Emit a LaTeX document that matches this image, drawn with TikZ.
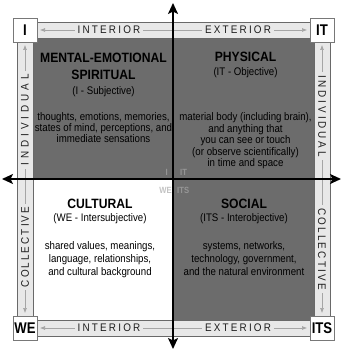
\documentclass[tikz,border=0pt]{standalone}
\usepackage{fontspec}
\setmainfont{Liberation Sans}
\newfontfamily\nf{Liberation Sans}[FakeStretch=0.88]
\newfontfamily\tnf{Liberation Sans}[FakeStretch=0.9]
\newfontfamily\cnf{Liberation Sans}[FakeStretch=0.85]
\newfontfamily\snf{Liberation Sans}[FakeStretch=0.9]
\usetikzlibrary{arrows.meta}
\definecolor{quad}{RGB}{108,108,108}
\definecolor{stripfill}{RGB}{232,232,232}
\definecolor{stripline}{RGB}{105,105,105}
\definecolor{arrowgray}{RGB}{165,165,165}
\definecolor{striptext}{RGB}{30,30,30}
\definecolor{boxline}{RGB}{120,120,120}
\definecolor{fainta}{RGB}{150,150,150}
\definecolor{faintb}{RGB}{195,195,195}
\tikzset{
  qt/.style={font=\fontsize{13.5}{14}\tnf\bfseries, anchor=base, inner sep=0pt, text=black},
  qs/.style={font=\fontsize{11}{11.3}\nf, anchor=base, inner sep=0pt, text=black},
  stripbox/.style={fill=stripfill, draw=stripline, line width=0.8pt},
  striparrow/.style={draw=arrowgray, line width=0.6pt, {Latex[length=5pt,width=4pt]}-{Latex[length=5pt,width=4pt]}},
  striplabel/.style={fill=stripfill, inner xsep=3pt, inner ysep=1pt, text=striptext},
  cornerbox/.style={draw=boxline, fill=white, line width=0.8pt, minimum size=24pt, inner sep=0pt,
    font=\fontsize{15.5}{16}\cnf\bfseries, text=black},
  axis/.style={line width=1.8pt, black, {Stealth[length=11pt,width=10pt,inset=2.5pt]}-{Stealth[length=11pt,width=10pt,inset=2.5pt]}},
  faint/.style={font=\fontsize{9}{9}\cnf\bfseries, anchor=base, inner sep=0pt}
}
\newcommand{\spaced}[1]{\fontsize{11}{11}\snf\addfontfeatures{LetterSpace=#1}}
\begin{document}
\begin{tikzpicture}[x=1pt,y=-1pt]
\useasboundingbox (0,0) rectangle (342,350);
\fill[white] (0,0) rectangle (342,350);
% quadrants
\fill[quad] (33,38) rectangle (173,179);
\fill[quad] (173,38) rectangle (314,179);
\fill[white] (33,179) rectangle (173,320);
\fill[quad] (173,179) rectangle (314,320);
% strips
\path[stripbox] (37,22) rectangle (310,38);
\path[stripbox] (37,320) rectangle (310,336);
\path[stripbox] (17,42) rectangle (33,317);
\path[stripbox] (314,42) rectangle (330,317);
% strip arrows
\coordinate (tA) at (40,30);  \coordinate (tB) at (307,30);
\coordinate (bA) at (40,328); \coordinate (bB) at (307,328);
\coordinate (lA) at (25,45);  \coordinate (lB) at (25,313);
\coordinate (rA) at (322,45); \coordinate (rB) at (322,313);
\draw[striparrow] (tA) -- (tB);
\draw[striparrow] (bA) -- (bB);
\draw[striparrow] (lA) -- (lB);
\draw[striparrow] (rA) -- (rB);
% strip labels
\node[striplabel, font=\spaced{20}] (tint) at (109,30) {INTERIOR};
\node[striplabel, font=\spaced{20}] (text) at (238,30) {EXTERIOR};
\node[striplabel, font=\spaced{20}] (bint) at (109,328) {INTERIOR};
\node[striplabel, font=\spaced{20}] (bext) at (238,328) {EXTERIOR};
\node[striplabel, rotate=90, font=\spaced{36}] (lind) at (25,120) {INDIVIDUAL};
\node[striplabel, rotate=90, font=\spaced{19}] (lcol) at (25,247) {COLLECTIVE};
\node[striplabel, rotate=-90, font=\spaced{26}] (rind) at (322,116) {INDIVIDUAL};
\node[striplabel, rotate=-90, font=\spaced{20}] (rcol) at (322,249) {COLLECTIVE};
% axes
\coordinate (axT) at (173,3);
\coordinate (axB) at (173,349);
\coordinate (axL) at (2,179);
\coordinate (axR) at (341,179);
\draw[axis] (axB) -- (axT);
\draw[axis] (axL) -- (axR);
% corner boxes
\node[cornerbox] (cI) at (25,30) {I};
\node[cornerbox] (cIT) at (322,30) {IT};
\node[cornerbox] (cWE) at (25,328) {WE};
\node[cornerbox] (cITS) at (322,328) {ITS};
% faint centre labels
\node[faint, text=fainta, anchor=base east] (fI) at (168,175) {I};
\node[faint, text=fainta, anchor=base west] (fIT) at (180,175) {IT};
\node[faint, text=faintb, anchor=base east] (fWE) at (172,193) {WE};
\node[faint, text=fainta, anchor=base west] (fITS) at (177,193) {ITS};
% top-left
\node[qt] (tl1) at (103.5,63) {MENTAL-EMOTIONAL};
\node[qt] (tl2) at (103.5,80) {SPIRITUAL};
\node[qs] (tl3) at (103.5,94.5) {(I - Subjective)};
\node[qs] (tl4) at (103.5,120.5) {thoughts, emotions, memories,};
\node[qs] (tl5) at (103.5,131.5) {states of mind, perceptions, and};
\node[qs] (tl6) at (103.5,142.5) {immediate sensations};
% top-right
\node[qt] (tr1) at (245.5,62) {PHYSICAL};
\node[qs] (tr2) at (245.5,75.5) {(IT - Objective)};
\node[qs] (tr3) at (245.5,120.5) {material body (including brain),};
\node[qs] (tr4) at (245.5,132) {and anything that};
\node[qs] (tr5) at (245.5,143.5) {you can see or touch};
\node[qs] (tr6) at (245.5,155) {(or observe scientifically)};
\node[qs] (tr7) at (245.5,166.5) {in time and space};
% bottom-left
\node[qt] (bl1) at (100,208) {CULTURAL};
\node[qs] (bl2) at (100,221.5) {(WE - Intersubjective)};
\node[qs] (bl3) at (100,249.5) {shared values, meanings,};
\node[qs] (bl4) at (100,262) {language, relationships,};
\node[qs] (bl5) at (100,275.5) {and cultural background};
% bottom-right
\node[qt] (br1) at (244,208) {SOCIAL};
\node[qs] (br2) at (244,221.5) {(ITS - Interobjective)};
\node[qs] (br3) at (244,249.5) {systems, networks,};
\node[qs] (br4) at (244,262) {technology, government,};
\node[qs] (br5) at (244,275.5) {and the natural environment};
\end{tikzpicture}
\end{document}
